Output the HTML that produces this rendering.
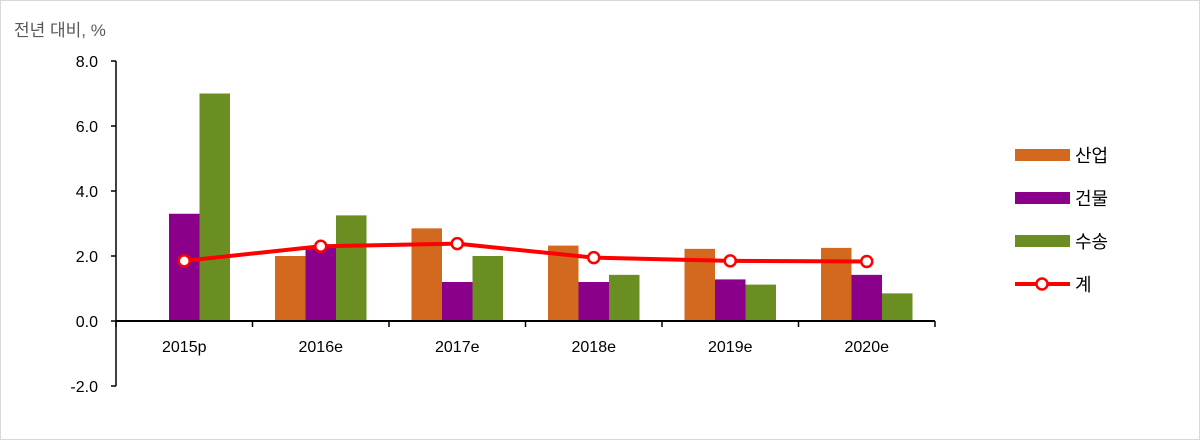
<!DOCTYPE html>
<html><head><meta charset="utf-8"><style>
body{margin:0;background:#fff;}
svg{display:block;font-family:"Liberation Sans","Noto Sans CJK KR",sans-serif;}
</style></head><body>
<svg width="1200" height="440">
<rect x="0.5" y="0.5" width="1199" height="439" fill="#fff" stroke="#d9d9d9"/>
<text x="14" y="36" font-size="17" fill="#595959">전년 대비, %</text>
<g id="plot"></g>
<g id="legend"></g>
</svg>
<script>
const categories=["2015p","2016e","2017e","2018e","2019e","2020e"];
const industry=[0,2.0,2.85,2.32,2.22,2.25];
const building=[3.3,2.3,1.2,1.2,1.28,1.42];
const transport=[7.0,3.25,2.0,1.42,1.12,0.85];
const total=[1.85,2.3,2.38,1.95,1.85,1.83];
const yTicks=[8,6,4,2,0,-2];
const seriesNames=["산업","건물","수송","계"];
const NS="http://www.w3.org/2000/svg";
const X0=116,X1=935,Y0=321,PU=32.5;
const cw=(X1-X0)/categories.length;
const y=v=>Y0-v*PU;
const xc=i=>X0+cw*(i+0.5);
const g=document.getElementById('plot');
function mk(t,a,p){const e=document.createElementNS(NS,t);for(const k in a)e.setAttribute(k,a[k]);(p||g).appendChild(e);return e;}
// y axis
let ax=mk('line',{x1:X0,y1:y(8),x2:X0,y2:y(-2),stroke:'#000','stroke-width':1.5});


yTicks.forEach(v=>{
 mk('line',{x1:X0-5,y1:y(v),x2:X0,y2:y(v),stroke:'#000','stroke-width':1.5});
 const t=mk('text',{x:X0-18,y:y(v)+6,'text-anchor':'end','font-size':16,fill:'#000'});
 t.textContent=v.toFixed(1);
 
 
});
const cols=['#d2691e','#8b008b','#6b8e23'];
const data=[industry,building,transport];
const bw=30.5;
categories.forEach((c,i)=>{
 data.forEach((s,k)=>{
  const v=s[i];const x=xc(i)-1.5*bw+k*bw;
  const r=mk('rect',{x:x,y:Math.min(y(v),Y0),width:bw,height:Math.abs(y(v)-Y0),fill:cols[k]});
  
  
 });
 const t=mk('text',{x:xc(i),y:Y0+31,'text-anchor':'middle','font-size':16,fill:'#000'});
 t.textContent=c;
 
 
});
let xa=mk('line',{x1:X0,y1:Y0,x2:X1,y2:Y0,stroke:'#000','stroke-width':2});


for(let i=0;i<=categories.length;i++)mk('line',{x1:X0+cw*i,y1:Y0,x2:X0+cw*i,y2:Y0+6,stroke:'#000','stroke-width':1.5});
const pl=mk('polyline',{points:total.map((v,i)=>xc(i)+','+y(v)).join(' '),fill:'none',stroke:'#ff0000','stroke-width':4});


total.forEach((v,i)=>{
 const c=mk('circle',{cx:xc(i),cy:y(v),r:5.5,fill:'#fff',stroke:'#ff0000','stroke-width':2.5});
 
 
});
const lg=document.getElementById('legend');
const ly=[155,198,241,284];
for(let k=0;k<4;k++){
 if(k<3){mk('rect',{x:1015,y:ly[k]-6,width:55,height:12,fill:cols[k]},lg);}
 else{mk('line',{x1:1015,y1:ly[k],x2:1070,y2:ly[k],stroke:'#ff0000','stroke-width':4},lg);
  mk('circle',{cx:1042,cy:ly[k],r:5.5,fill:'#fff',stroke:'#ff0000','stroke-width':2.5},lg);}
 const t=mk('text',{x:1075,y:ly[k]+7,'font-size':18,fill:'#000'},lg);
 t.textContent=seriesNames[k];
 
 
}
</script>
</body></html>
